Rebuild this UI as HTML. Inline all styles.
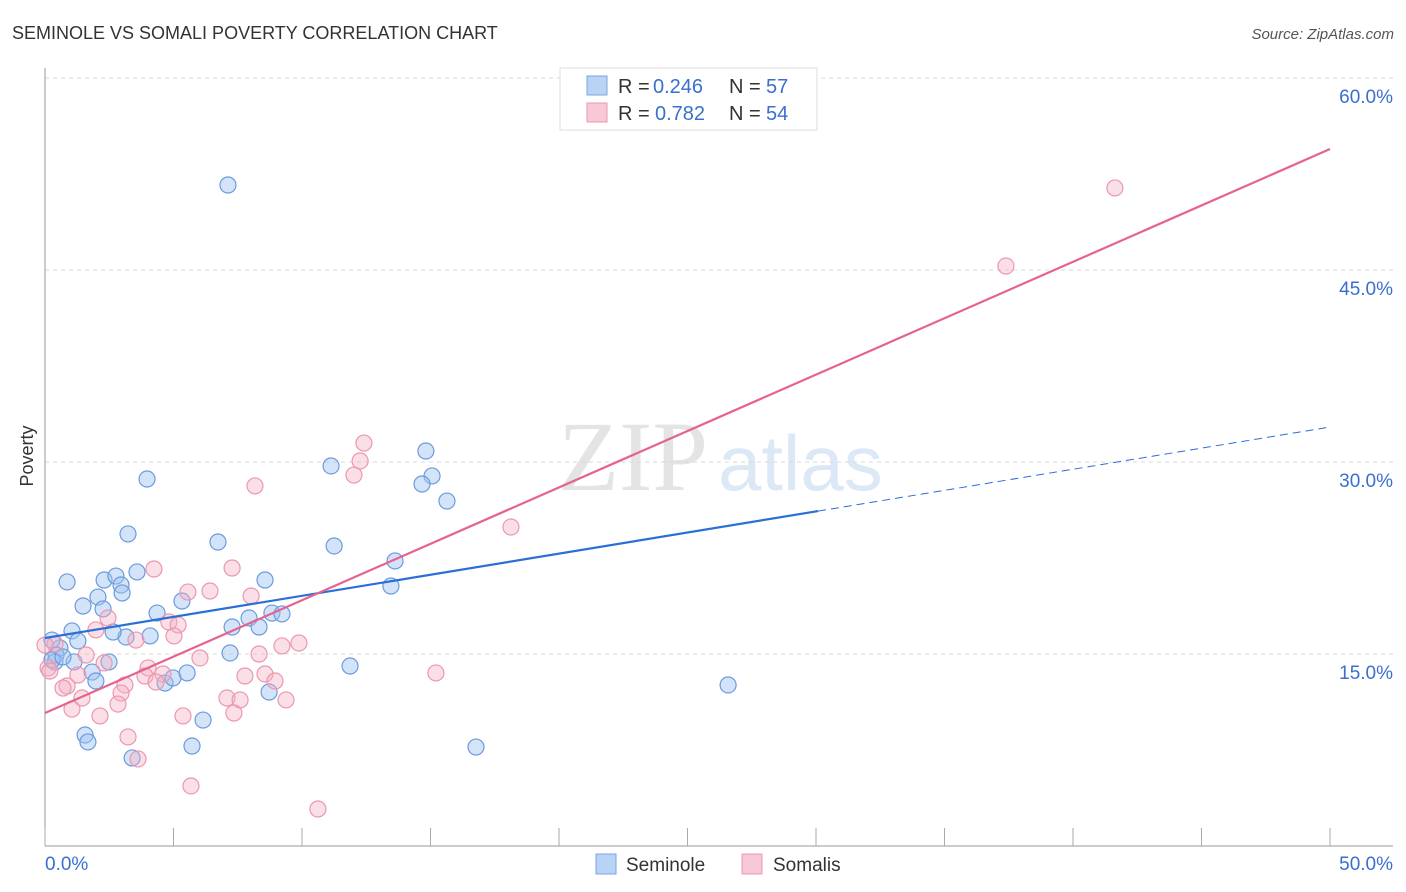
<!DOCTYPE html>
<html><head><meta charset="utf-8"><style>
body{margin:0;background:#fff;font-family:"Liberation Sans",sans-serif;}
svg{display:block}
</style></head><body>
<svg id="chart" width="1406" height="892">
<text x="12" y="39" font-size="18" fill="#333">SEMINOLE VS SOMALI POVERTY CORRELATION CHART</text>
<text x="1394" y="39" font-size="15" fill="#555" font-style="italic" text-anchor="end">Source: ZipAtlas.com</text>
<text x="558" y="490" font-size="100" font-family="Liberation Serif,serif" fill="#e4e4e4">ZIP</text>
<text x="718" y="490" font-size="78" fill="#dce8f6">atlas</text>
<g id="grid"></g>
<g id="marks"></g>
<text transform="translate(33,456) rotate(-90)" font-size="18" fill="#333" text-anchor="middle">Poverty</text>
<g>
<rect x="560" y="68" width="257" height="62" fill="#fff" stroke="#ddd"/>
<rect x="587" y="76" width="20" height="19" fill="#b9d3f5" stroke="#7aa6e0"/>
<text x="618" y="93" font-size="20" fill="#333">R =</text>
<text x="653" y="93" font-size="20" fill="#3a6fd0">0.246</text>
<text x="729" y="93" font-size="20" fill="#333">N =</text>
<text x="766" y="93" font-size="20" fill="#3a6fd0">57</text>
<rect x="587" y="103" width="20" height="19" fill="#f9c8d6" stroke="#ea98b0"/>
<text x="618" y="120" font-size="20" fill="#333">R =</text>
<text x="655" y="120" font-size="20" fill="#3a6fd0">0.782</text>
<text x="729" y="120" font-size="20" fill="#333">N =</text>
<text x="766" y="120" font-size="20" fill="#3a6fd0">54</text>
</g>
<g>
<rect x="596" y="854" width="20" height="20" fill="#b9d3f5" stroke="#7aa6e0"/>
<text x="626" y="871" font-size="19" fill="#333">Seminole</text>
<rect x="742" y="854" width="20" height="20" fill="#f9c8d6" stroke="#ea98b0"/>
<text x="773" y="871" font-size="19" fill="#333">Somalis</text>
</g>
</svg>
<script>
const yTicks=[15,30,45,60];
const yTickLabels=["15.0%","30.0%","45.0%","60.0%"];
const xTickLabels=["0.0%","50.0%"];
const seminoleX=[7.12,3.97,3.23,6.73,0.86,2.30,2.76,2.96,3.00,3.58,1.48,2.06,2.26,4.36,5.33,8.56,11.13,11.25,14.82,15.06,14.67,15.64,13.62,13.46,7.94,8.33,8.83,9.22,7.28,4.09,3.15,2.65,1.05,1.28,0.58,0.43,0.39,0.27,1.13,2.49,1.83,1.98,4.67,4.98,5.53,7.20,8.72,11.87,26.58,1.56,1.67,3.39,5.72,6.15,16.77,0.27,0.70];
const seminoleY=[51.64,28.67,24.38,23.75,20.63,20.78,21.09,20.39,19.77,21.41,18.75,19.45,18.52,18.20,19.14,20.78,29.69,23.44,30.86,28.91,28.28,26.95,22.27,20.31,17.81,17.11,18.20,18.13,17.11,16.41,16.33,16.72,16.80,16.02,15.47,14.92,14.38,14.53,14.38,14.38,13.59,12.89,12.73,13.13,13.52,15.08,12.03,14.06,12.58,8.67,8.13,6.88,7.81,9.84,7.73,16.09,14.77];
const somaliX=[41.63,37.39,12.41,12.26,12.02,8.17,18.13,4.24,7.28,6.42,5.56,8.02,2.45,1.98,4.82,5.18,5.02,3.54,2.30,1.60,9.88,9.22,8.33,6.03,4.01,4.59,3.89,4.32,1.28,0.12,0.39,0.86,0.70,1.44,3.11,2.96,2.84,7.78,8.56,8.95,9.38,7.08,7.59,7.35,15.21,1.05,2.14,5.37,3.23,3.62,5.68,10.62,0.19,0];
const somaliY=[51.41,45.31,31.48,30.08,28.98,28.13,24.92,21.64,21.72,19.92,19.84,19.53,17.81,16.88,17.50,17.27,16.41,16.09,14.30,14.92,15.86,15.63,15.00,14.69,13.91,13.44,13.28,12.81,13.36,13.91,15.78,12.50,12.34,11.56,12.58,11.95,11.09,13.28,13.44,12.89,11.41,11.56,11.41,10.39,13.52,10.70,10.16,10.16,8.52,6.80,4.69,2.89,13.67,15.70];
const seminoleFit=[16.25,32.73];
const somaliFit=[10.39,54.45];
const seminoleSolidEnd=30.08;

const NS="http://www.w3.org/2000/svg";
const X0=45,X1=1330,Y0=846,PXPER=192/15;
const sx=v=>X0+(v/50)*(X1-X0);
const sy=v=>Y0-v*PXPER;
function mk(tag,attrs,parent){const e=document.createElementNS(NS,tag);for(const k in attrs)e.setAttribute(k,attrs[k]);parent.appendChild(e);return e;}
const grid=document.getElementById('grid'),marks=document.getElementById('marks');
yTicks.forEach((t,i)=>{
  const l=mk('line',{x1:X0,x2:1393,y1:sy(t),y2:sy(t),stroke:'#d8d8d8','stroke-dasharray':'4,4'},grid);
  
  
  const tx=mk('text',{x:1393,y:sy(t)+25,'font-size':19,fill:'#3a6fd0','text-anchor':'end'},grid);
  tx.textContent=yTickLabels[i];
  
  
});
const ax=mk('line',{x1:X0,x2:X0,y1:68,y2:Y0,stroke:'#999'},grid);


const bx=mk('line',{x1:X0,x2:1393,y1:Y0,y2:Y0,stroke:'#999'},grid);


for(let i=0;i<=10;i++){
  const t=mk('line',{x1:sx(i*5),x2:sx(i*5),y1:Y0,y2:Y0-18,stroke:'#aaa'},grid);
  
  
}
[[0,'start',45],[50,'end',1393]].forEach((d,i)=>{
  const tx=mk('text',{x:d[2],y:870,'font-size':19,fill:'#3a6fd0','text-anchor':d[1]},grid);
  tx.textContent=xTickLabels[i];
  
  
});
seminoleX.forEach((x,i)=>{
  const c=mk('circle',{cx:sx(x),cy:sy(seminoleY[i]),r:8,fill:'rgba(160,196,240,0.45)',stroke:'#6b9ade','stroke-width':1.2},marks);
  
  
});
somaliX.forEach((x,i)=>{
  const c=mk('circle',{cx:sx(x),cy:sy(somaliY[i]),r:8,fill:'rgba(245,175,195,0.4)',stroke:'#eb97b0','stroke-width':1.2},marks);
  
  
});
const bAt=x=>seminoleFit[0]+(seminoleFit[1]-seminoleFit[0])*x/50;
const l1=mk('line',{x1:sx(0),y1:sy(bAt(0)),x2:sx(seminoleSolidEnd),y2:sy(bAt(seminoleSolidEnd)),stroke:'#2a6fd6','stroke-width':2.2},marks);


const l2=mk('line',{x1:sx(seminoleSolidEnd),y1:sy(bAt(seminoleSolidEnd)),x2:sx(50),y2:sy(bAt(50)),stroke:'#2a6fd6','stroke-width':1,'stroke-dasharray':'8,5'},marks);


const l3=mk('line',{x1:sx(0),y1:sy(somaliFit[0]),x2:sx(50),y2:sy(somaliFit[1]),stroke:'#e5638e','stroke-width':2.2},marks);


</script>
</body></html>
